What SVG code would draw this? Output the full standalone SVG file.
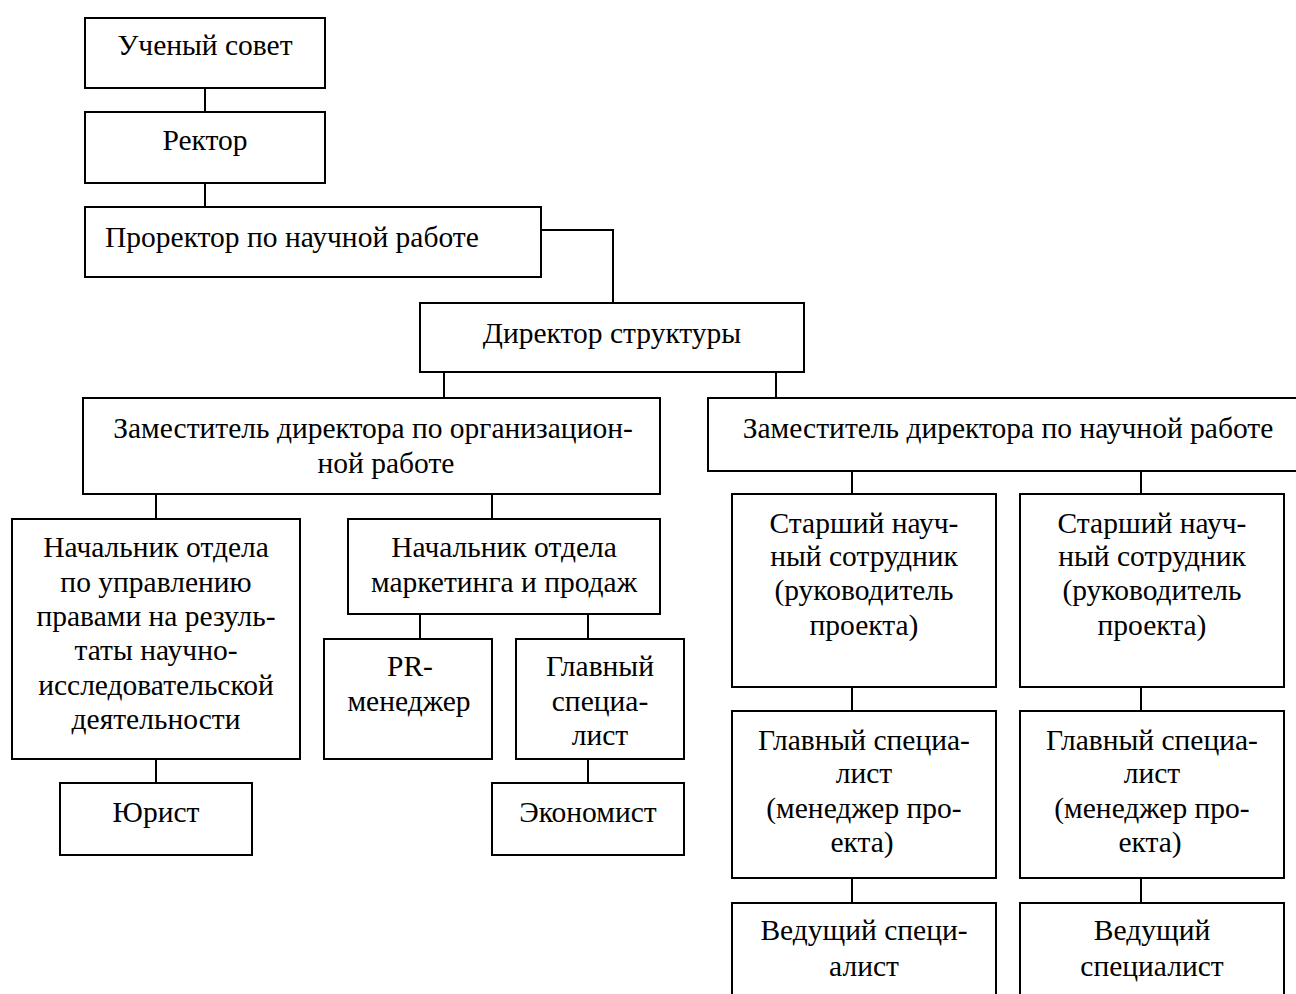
<svg xmlns="http://www.w3.org/2000/svg" width="1296" height="994" viewBox="0 0 1296 994">
<style>
.b{fill:#fff;stroke:#000;stroke-width:2}
.c{fill:none;stroke:#000;stroke-width:2}
text{font-family:"Liberation Serif","Times New Roman",serif;font-size:29.5px;fill:#000;text-anchor:middle}
</style>
<rect width="1296" height="994" fill="#fff"/>
<g id="connectors">
<path class="c" d="M205 88V112M205 183V207M541 230H613V303M444 372V398M776 372V398M156 494V519M492 494V519M420 614V639M588 614V639M156 759V783M588 759V783M852 470V494M1141 470V494M852 687V711M1141 687V711M852 878V903M1141 878V903"/>
</g>
<g id="n1"><rect class="b" x="85" y="18" width="240" height="70"/><text x="205" y="55">Ученый совет</text></g>
<g id="n2"><rect class="b" x="85" y="112" width="240" height="71"/><text x="205" y="150">Ректор</text></g>
<g id="n3"><rect class="b" x="85" y="207" width="456" height="70"/><text x="105" y="247" style="text-anchor:start">Проректор по научной работе</text></g>
<g id="n4"><rect class="b" x="420" y="303" width="384" height="69"/><text x="612" y="343">Директор структуры</text></g>
<g id="n5"><rect class="b" x="83" y="398" width="577" height="96"/><text x="373" y="438">Заместитель директора по организацион-</text><text x="386" y="473">ной работе</text></g>
<g id="n6"><rect class="b" x="708" y="398" width="592" height="73"/><text x="1008" y="438">Заместитель директора по научной работе</text></g>
<g id="n7"><rect class="b" x="12" y="519" width="288" height="240"/>
<text x="156" y="557">Начальник отдела</text><text x="156" y="592">по управлению</text><text x="156" y="626">правами на резуль-</text><text x="156" y="660">таты научно-</text><text x="156" y="695">исследовательской</text><text x="156" y="729">деятельности</text></g>
<g id="n8"><rect class="b" x="348" y="519" width="312" height="95"/><text x="504" y="557">Начальник отдела</text><text x="504" y="592">маркетинга и продаж</text></g>
<g id="n9"><rect class="b" x="324" y="639" width="168" height="120"/><text x="410" y="676">PR-</text><text x="409" y="711">менеджер</text></g>
<g id="n10"><rect class="b" x="516" y="639" width="168" height="120"/><text x="600" y="676">Главный</text><text x="600" y="711">специа-</text><text x="600" y="745">лист</text></g>
<g id="n11"><rect class="b" x="60" y="783" width="192" height="72"/><text x="156" y="822">Юрист</text></g>
<g id="n12"><rect class="b" x="492" y="783" width="192" height="72"/><text x="588" y="822">Экономист</text></g>
<g id="n13"><rect class="b" x="732" y="494" width="264" height="193"/><text x="864" y="533">Старший науч-</text><text x="864" y="566">ный сотрудник</text><text x="864" y="600">(руководитель</text><text x="864" y="635">проекта)</text></g>
<g id="n14"><rect class="b" x="1020" y="494" width="264" height="193"/><text x="1152" y="533">Старший науч-</text><text x="1152" y="566">ный сотрудник</text><text x="1152" y="600">(руководитель</text><text x="1152" y="635">проекта)</text></g>
<g id="n15"><rect class="b" x="732" y="711" width="264" height="167"/><text x="864" y="750">Главный специа-</text><text x="864" y="783">лист</text><text x="864" y="818">(менеджер про-</text><text x="862" y="852">екта)</text></g>
<g id="n16"><rect class="b" x="1020" y="711" width="264" height="167"/><text x="1152" y="750">Главный специа-</text><text x="1152" y="783">лист</text><text x="1152" y="818">(менеджер про-</text><text x="1150" y="852">екта)</text></g>
<g id="n17"><rect class="b" x="732" y="903" width="264" height="110"/><text x="864" y="940">Ведущий специ-</text><text x="864" y="976">алист</text></g>
<g id="n18"><rect class="b" x="1020" y="903" width="264" height="110"/><text x="1152" y="940">Ведущий</text><text x="1152" y="976">специалист</text></g>
</svg>
